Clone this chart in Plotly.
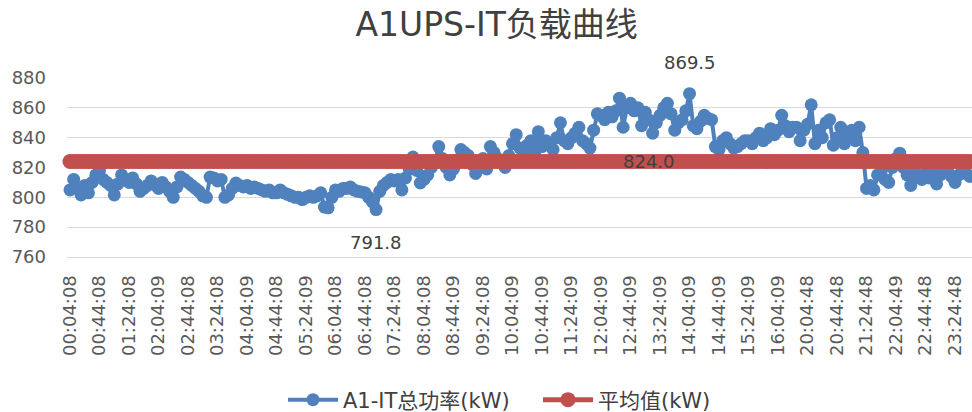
import plotly.graph_objects as go

# ---- data ----
tick_labels = [
    "00:04:08", "00:44:08", "01:24:08", "02:04:09", "02:44:08", "03:24:08",
    "04:04:09", "04:44:08", "05:24:09", "06:04:08", "06:44:08", "07:24:08",
    "08:04:08", "08:44:09", "09:24:08", "10:04:09", "10:44:09", "11:24:09",
    "12:04:09", "12:44:09", "13:24:09", "14:04:09", "14:44:09", "15:24:09",
    "16:04:09", "20:04:48", "20:44:48", "21:24:48", "22:04:49", "22:44:48",
    "23:24:48",
]
points_per_tick = 8

power_kw = [
    805, 812, 806, 801.6, 808, 803, 810, 815,
    818, 812, 810, 808, 801.6, 809, 815, 812,
    810, 813, 809, 804, 806, 808, 811, 808.5,
    806, 810, 807, 804, 800, 807, 813.6, 812,
    810, 808, 806, 804, 801, 800, 813.6, 813,
    811, 812, 800, 801.6, 806, 809.6, 808, 807,
    808, 806, 807, 806, 805, 804, 805, 803,
    803, 805, 803, 802, 801, 800, 800, 798.5,
    800, 801, 800, 801, 803, 793.5, 793, 800,
    805, 804, 806, 806, 807, 805, 804, 803.6,
    803, 800, 797, 791.8, 804, 808, 810, 812,
    811, 812, 805, 813, 819, 827, 818, 809.6,
    812, 815, 820, 824, 834, 826, 820, 815,
    819, 825, 832, 830, 828, 822, 816, 820,
    826, 819, 834, 830, 826, 824, 820, 828,
    836, 842, 833, 830, 835, 838, 829, 844,
    834, 838, 836, 832, 840, 850, 838, 836,
    840, 843, 847, 838, 836, 833, 845, 856,
    855, 852, 857, 854, 858, 866.5, 847, 860,
    863, 858, 860, 848, 857, 852, 843, 850,
    855, 860, 863, 856, 845, 850, 852, 858,
    869.5, 848, 846, 851, 855, 853, 852, 834,
    832, 838, 840, 836, 833, 834, 836, 838,
    838, 836, 840, 843, 838, 840, 846, 842,
    845, 855, 848, 844, 847, 847, 838, 845,
    849, 862, 836, 845, 840, 850, 852, 835,
    840, 847, 836, 842, 845, 838, 847, 830,
    806, 808, 805, 815, 818, 812, 810, 820,
    826, 829.6, 820, 815, 808, 818, 814, 812,
    816, 813, 819, 809, 815, 820, 818, 814,
    810, 815, 818, 816, 814, 813, 815, 812,
]
average_kw = 824.0
max_label = "869.5"
min_label = "791.8"
avg_label = "824.0"
avg_label_index = 157

# ---- figure ----
n = len(power_kw)
xs = list(range(n))
tickvals = [i * points_per_tick for i in range(len(tick_labels))]

BLUE = "#4F81BD"
RED = "#C0504D"
FONT = "DejaVu Sans, Noto Sans CJK SC, sans-serif"
TXT = "#404040"
TICK = "#595959"

fig = go.Figure()
fig.add_trace(go.Scatter(
    x=xs, y=power_kw, mode="lines+markers", name="A1-IT总功率(kW)",
    line=dict(color=BLUE, width=4), marker=dict(color=BLUE, size=13),
    cliponaxis=False,
))
fig.add_trace(go.Scatter(
    x=xs, y=[average_kw] * n, mode="lines+markers", name="平均值(kW)",
    line=dict(color=RED, width=5), marker=dict(color=RED, size=15),
    cliponaxis=False,
))

imax = power_kw.index(max(power_kw))
imin = power_kw.index(min(power_kw))
ann_font = dict(family=FONT, size=18, color=TXT)
fig.add_annotation(x=imax, y=power_kw[imax], text=max_label, showarrow=False,
                   yanchor="middle", yshift=31, font=ann_font)
fig.add_annotation(x=imin, y=power_kw[imin], text=min_label, showarrow=False,
                   yanchor="middle", yshift=-33, font=ann_font)
fig.add_annotation(x=avg_label_index, y=average_kw, text=avg_label, showarrow=False,
                   yanchor="middle", yshift=0, font=ann_font)

fig.update_layout(
    width=972, height=412,
    margin=dict(l=67, r=0, t=78, b=155),
    paper_bgcolor="white", plot_bgcolor="white",
    title=dict(text="A1UPS-IT负载曲线", x=0.511, xanchor="center",
               y=1 - 24 / 412, yanchor="middle",
               font=dict(family=FONT, size=33, color=TXT)),
    showlegend=True,
    legend=dict(orientation="h", xref="container", yref="container",
                x=283 / 972, xanchor="left", y=1 - 400 / 412, yanchor="middle",
                font=dict(family=FONT, size=21, color=TXT), itemwidth=50,
                entrywidth=190, entrywidthmode="pixels",
                traceorder="normal"),
    hovermode=False,
)
fig.update_xaxes(
    range=[-0.81, 244.6], tickmode="array", tickvals=tickvals, ticktext=tick_labels,
    tickangle=-90, tickfont=dict(family=FONT, size=18, color=TICK),
    showgrid=False, showline=True, linecolor="#D9D9D9", linewidth=1,
    zeroline=False, ticks="", automargin=False, ticklabelstandoff=10,
)
fig.update_yaxes(
    range=[760, 880], dtick=20, tick0=760,
    tickfont=dict(family=FONT, size=18, color=TICK),
    showgrid=True, gridcolor="#D9D9D9", gridwidth=1,
    zeroline=False, showline=False, ticks="", ticklabelstandoff=20,
    automargin=False,
)

fig.write_html("out.html", config={"displayModeBar": False},
               post_script="document.body.style.margin='0';document.body.style.overflow='hidden';")
